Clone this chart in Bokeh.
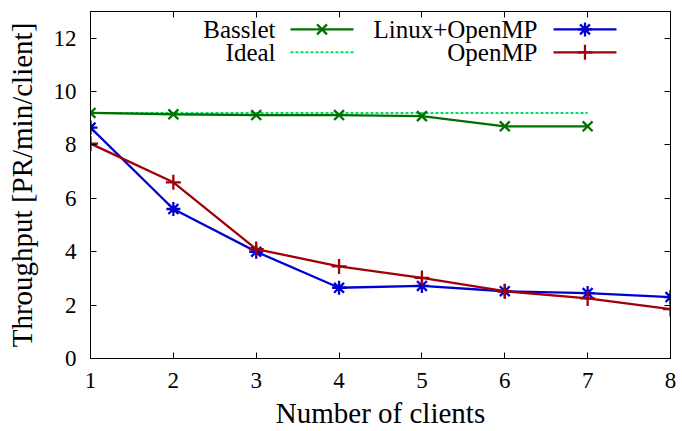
from bokeh.plotting import figure
from bokeh.models import Range1d, FixedTicker, LinearAxis, Label
from bokeh.embed import file_html
from bokeh.resources import INLINE

clients = [1, 2, 3, 4, 5, 6, 7, 8]
basslet_x = [1, 2, 3, 4, 5, 6, 7]
basslet = [9.2, 9.15, 9.12, 9.12, 9.08, 8.7, 8.7]
ideal_x = [1, 7]
ideal = [9.2, 9.2]
linux_openmp = [8.65, 5.6, 4.0, 2.65, 2.72, 2.52, 2.45, 2.3]
openmp = [8.05, 6.6, 4.1, 3.45, 3.02, 2.52, 2.25, 1.85]
y_ticks = [0, 2, 4, 6, 8, 10, 12]

FONT = "Liberation Serif"
GREEN = "#007000"
IDEAL = "#00dd66"
BLUE = "#0000d0"
RED = "#a00008"

p = figure(width=682, height=431, output_backend="svg", toolbar_location=None,
           x_range=Range1d(1, 8), y_range=Range1d(0, 13),
           min_border_left=90, min_border_right=12, min_border_top=11, min_border_bottom=71)
p.xgrid.visible = False
p.ygrid.visible = False
p.outline_line_color = "black"
p.outline_line_width = 1
p.background_fill_color = "white"
p.border_fill_color = "white"

def style_axis(ax, ticks, labels=True):
    ax.ticker = FixedTicker(ticks=ticks)
    ax.major_tick_in = 6
    ax.major_tick_out = 0
    ax.minor_tick_in = 0
    ax.minor_tick_out = 0
    ax.axis_line_color = "black"
    ax.major_tick_line_color = "black"
    if labels:
        ax.major_label_text_font = FONT
        ax.major_label_text_font_size = "23px"
        ax.major_label_text_color = "black"
        ax.axis_label_text_font = FONT
        ax.axis_label_text_font_size = "29px"
        ax.axis_label_text_font_style = "normal"
        ax.axis_label_text_color = "black"
    else:
        ax.major_label_overrides = {t: "" for t in ticks}
        ax.major_label_text_font_size = "1px"
        ax.major_label_standoff = 0

style_axis(p.xaxis[0], clients)
p.xaxis[0].axis_label = "Number of clients"
p.xaxis[0].major_label_standoff = 14
p.xaxis[0].axis_label_standoff = 6
style_axis(p.yaxis[0], y_ticks)
p.yaxis[0].axis_label = "Throughput [PR/min/client]"
p.yaxis[0].major_label_standoff = 14
p.yaxis[0].axis_label_standoff = 13

top_ax = LinearAxis()
style_axis(top_ax, clients, labels=False)
p.add_layout(top_ax, "above")
right_ax = LinearAxis()
style_axis(right_ax, y_ticks, labels=False)
p.add_layout(right_ax, "right")

LW = 2.3
# series
p.line(ideal_x, ideal, line_color=IDEAL, line_width=2, line_dash="3 2")
p.line(basslet_x, basslet, line_color=GREEN, line_width=LW)
p.scatter(basslet_x, basslet, marker="x", size=14, line_color=GREEN, line_width=LW)
p.line(clients, linux_openmp, line_color=BLUE, line_width=LW)
p.scatter(clients, linux_openmp, marker="asterisk", size=14, line_color=BLUE, line_width=LW)
p.line(clients, openmp, line_color=RED, line_width=LW)
p.scatter(clients, openmp, marker="cross", size=15, line_color=RED, line_width=LW)

# gnuplot-style legend (text on left, sample on right)
leg_names = ["Basslet", "Ideal", "Linux+OpenMP", "OpenMP"]
leg_text_x = [3.233, 3.233, 6.395, 6.395]
leg_y = [12.33, 11.47, 12.33, 11.47]
leg_x0 = [3.414, 3.414, 6.588, 6.588]
leg_x1 = [4.174, 4.174, 7.348, 7.348]
for name, tx, ly in zip(leg_names, leg_text_x, leg_y):
    p.add_layout(Label(x=tx, y=ly, text=name, text_align="right", text_baseline="middle",
                       text_font=FONT, text_font_size="25px", text_color="black"))

p.line([leg_x0[0], leg_x1[0]], [leg_y[0], leg_y[0]], line_color=GREEN, line_width=LW)
p.scatter([(leg_x0[0] + leg_x1[0]) / 2], [leg_y[0]], marker="x", size=14, line_color=GREEN, line_width=LW)
p.line([leg_x0[1], leg_x1[1]], [leg_y[1], leg_y[1]], line_color=IDEAL, line_width=2, line_dash="3 2")
p.line([leg_x0[2], leg_x1[2]], [leg_y[2], leg_y[2]], line_color=BLUE, line_width=LW)
p.scatter([(leg_x0[2] + leg_x1[2]) / 2], [leg_y[2]], marker="asterisk", size=14, line_color=BLUE, line_width=LW)
p.line([leg_x0[3], leg_x1[3]], [leg_y[3], leg_y[3]], line_color=RED, line_width=LW)
p.scatter([(leg_x0[3] + leg_x1[3]) / 2], [leg_y[3]], marker="cross", size=15, line_color=RED, line_width=LW)

open("out.html", "w").write(file_html(p, INLINE))
